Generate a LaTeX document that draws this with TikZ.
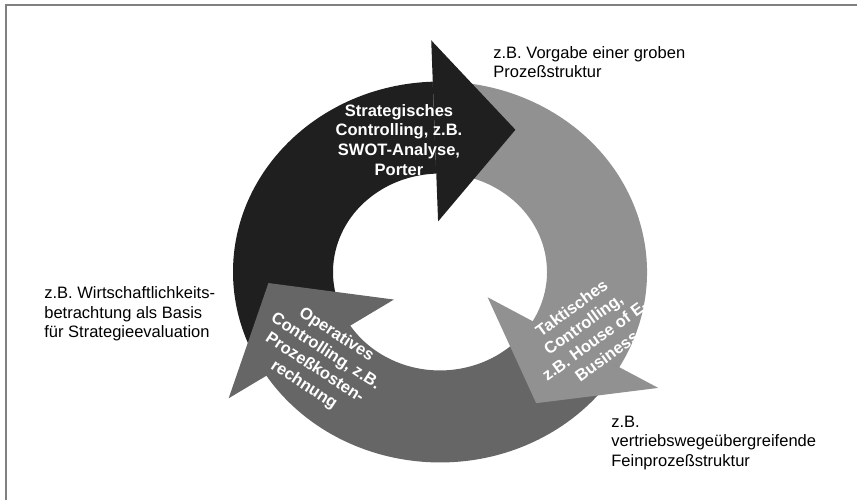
\documentclass[tikz,border=0pt]{standalone}
\usepackage{fontspec}
\setmainfont{Liberation Sans}
\usepackage{tikz}

\begin{document}
\begin{tikzpicture}[x=0.02cm,y=0.02cm]
	
	\tikzset{note/.style = {align=left,inner sep=0pt,font=\fontsize{9.4}{11.2}\selectfont}}
	\tikzset{stage/.style = {align=center,inner sep=0pt,text=white,font=\fontsize{9.4}{11.3}\selectfont\bfseries}}
	\tikzset{strat/.style = {fill=black!88}}
	\tikzset{takt/.style = {fill=black!43}}
	\tikzset{oper/.style = {fill=black!60}}
	
	\useasboundingbox (0,0) rectangle (857,500);
	\draw[black!50,line width=0.8pt] (6,0) -- (6,495) -- (857,495);
	
	\begin{scope}[shift={(440,228)},yscale=0.92]
	% bands
	\fill[strat] (92:207) arc[start angle=92,end angle=213,radius=207]
		-- (213:107) arc[start angle=213,end angle=92,radius=107] -- cycle;
	\fill[takt] (-30:207) arc[start angle=-30,end angle=92,radius=207]
		-- (92:107) arc[start angle=92,end angle=-30,radius=107] -- cycle;
	\fill[oper] (213:207) arc[start angle=213,end angle=330,radius=207]
		-- (330:107) arc[start angle=330,end angle=213,radius=107] -- cycle;
	% heads
	\fill[strat] (92:55) -- (92:252) -- (64:172) -- cycle;
	\fill[takt] (-30:55) -- (-30:252) -- (-56:172) -- cycle;
	\fill[oper] (213:55) -- (213:252) -- (184:172) -- cycle;
	\end{scope}
	
	\node[stage] (strattext) at (399,360) {Strategisches\\Controlling, z.B.\\SWOT-Analyse,\\Porter};
	\node[stage,rotate=36] (takttext) at (589,168) {Taktisches\\Controlling,\\z.B. House of E-\\Business};
	\node[stage,rotate=-33] (opertext) at (320,140) {Operatives\\Controlling, z.B.\\Prozeßkosten-\\rechnung};
	
	\node[note,anchor=west] (grob) at (493,438) {z.B. Vorgabe einer groben\\Prozeßstruktur};
	\node[note,anchor=west] (wirt) at (44,186) {z.B. Wirtschaftlichkeits-\\betrachtung als Basis\\für Strategieevaluation};
	\node[note,anchor=west] (fein) at (611,57) {z.B.\\vertriebswegeübergreifende\\Feinprozeßstruktur};
	
\end{tikzpicture}
\end{document}
